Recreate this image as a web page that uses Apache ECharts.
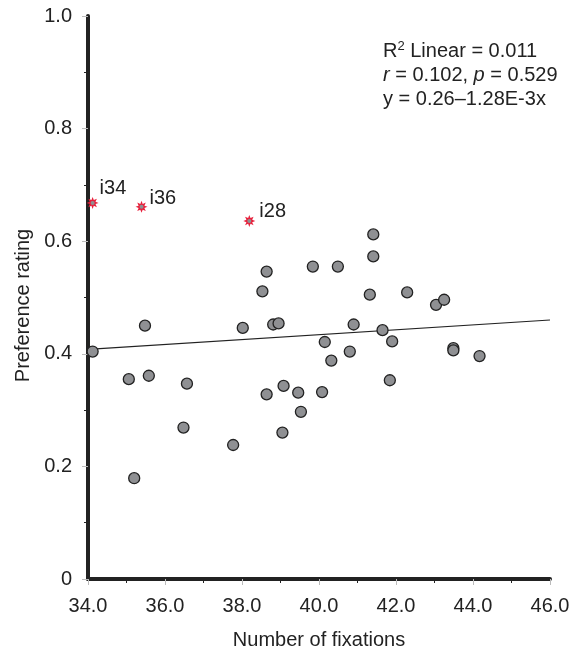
<!DOCTYPE html>
<html>
<head>
<meta charset="utf-8">
<script src="https://cdn.jsdelivr.net/npm/echarts@6/dist/echarts.min.js"></script>
<style>
  html, body { margin: 0; padding: 0; background: #fff; }
  #main { width: 579px; height: 655px; }
</style>
</head>
<body>
<div id="main"></div>
<script>
// fixations vs preference, grey points
const fixations = [34.12, 35.06, 35.20, 35.48, 35.58, 36.48, 36.57, 37.77, 38.02, 38.53,
  38.64, 38.64, 38.81, 38.95, 39.05, 39.08, 39.46, 39.53, 39.84, 40.08,
  40.15, 40.32, 40.49, 40.80, 40.90, 41.32, 41.41, 41.41, 41.65, 41.84,
  41.90, 42.29, 43.04, 43.25, 43.49, 43.49, 44.17];
const ratings = [0.404, 0.355, 0.179, 0.450, 0.361, 0.269, 0.347, 0.238, 0.446, 0.511,
  0.546, 0.328, 0.452, 0.454, 0.260, 0.343, 0.331, 0.297, 0.555, 0.332,
  0.421, 0.388, 0.555, 0.404, 0.452, 0.505, 0.612, 0.573, 0.442, 0.353,
  0.422, 0.509, 0.487, 0.496, 0.410, 0.406, 0.396];

// outliers (red stars)
const outlierNames = ['i34', 'i36', 'i28'];
const outlierX = [34.12, 35.39, 38.19];
const outlierY = [0.668, 0.661, 0.636];

// fitted line end points
const fitX = [34, 46];
const fitY = [0.408, 0.460];

const xTicks = [34, 36, 38, 40, 42, 44, 46];
const yTicks = [0, 0.2, 0.4, 0.6, 0.8, 1.0];

const font = '"Liberation Sans", Arial, sans-serif';
const ink = '#222';
const fs = 20;

const starPath = 'path://M0,-10 L2,-4.8 L7.1,-7.1 L4.8,-2 L10,0 L4.8,2 L7.1,7.1 L2,4.8 L0,10 L-2,4.8 L-7.1,7.1 L-4.8,2 L-10,0 L-4.8,-2 L-7.1,-7.1 L-2,-4.8 Z';

const chart = echarts.init(document.getElementById('main'));

const points = fixations.map((x, i) => [x, ratings[i]]);
const labelOffsets = [[-4, -14], [-3, -8], [-1, -9]];
const outliers = outlierX.map((x, i) => ({
  value: [x, outlierY[i]],
  name: outlierNames[i],
  label: { offset: labelOffsets[i] }
}));

const option = {
  animation: false,
  textStyle: { fontFamily: font },
  grid: { left: 88, right: 29, top: 16, bottom: 72 },
  xAxis: {
    type: 'value',
    min: xTicks[0],
    max: xTicks[xTicks.length - 1],
    interval: 2,
    name: 'Number of fixations',
    nameLocation: 'middle',
    nameGap: 51,
    nameTextStyle: { fontSize: fs, color: ink, fontFamily: font },
    axisLine: { show: true, onZero: false, lineStyle: { color: ink, width: 4 } },
    axisTick: { show: true, length: 6, lineStyle: { color: '#bbb', width: 1 } },
    minorTick: { show: true, splitNumber: 2, length: 4, lineStyle: { color: ink, width: 1 } },
    axisLabel: {
      fontSize: fs, color: ink, margin: 17, fontFamily: font,
      formatter: v => v.toFixed(1)
    },
    splitLine: { show: false }
  },
  yAxis: {
    type: 'value',
    min: yTicks[0],
    max: yTicks[yTicks.length - 1],
    interval: 0.2,
    name: 'Preference rating',
    nameLocation: 'middle',
    nameGap: 55,
    nameTextStyle: { fontSize: fs, color: ink, fontFamily: font, padding: [0, 16, 0, 0] },
    axisLine: { show: true, onZero: false, lineStyle: { color: ink, width: 4 } },
    axisTick: { show: true, length: 6, lineStyle: { color: '#bbb', width: 1 } },
    minorTick: { show: true, splitNumber: 2, length: 4, lineStyle: { color: ink, width: 1 } },
    axisLabel: {
      fontSize: fs, color: ink, margin: 16, fontFamily: font,
      formatter: v => (v === 0 ? '0' : v.toFixed(1))
    },
    splitLine: { show: false }
  },
  graphic: [{
    type: 'text',
    left: 383,
    top: 40,
    style: {
      text: '{n|R}{sup|2}{n| Linear = 0.011}\n{i|r}{n| = 0.102, }{i|p}{n| = 0.529}\n{n|y = 0.26–1.28E-3x}',
      fill: ink,
      rich: {
        n: { fontSize: fs, fontFamily: font, fill: ink, lineHeight: 24 },
        i: { fontSize: fs, fontFamily: font, fill: ink, fontStyle: 'italic', lineHeight: 24 },
        sup: { fontSize: 13, fontFamily: font, fill: ink, padding: [0, 0, 10, 0], lineHeight: 24 }
      }
    }
  }],
  series: [
    {
      type: 'line',
      data: fitX.map((x, i) => [x, fitY[i]]),
      symbol: 'none',
      lineStyle: { color: ink, width: 1.2 },
      z: 1
    },
    {
      type: 'scatter',
      data: points,
      symbol: 'circle',
      symbolSize: 11,
      itemStyle: { color: '#8f9093', borderColor: ink, borderWidth: 1.3, opacity: 1 },
      z: 3
    },
    {
      type: 'scatter',
      data: outliers,
      symbol: starPath,
      symbolSize: 12,
      itemStyle: { color: '#e8213c', opacity: 1 },
      label: {
        show: true,
        position: 'right',
        formatter: '{b}',
        fontSize: fs,
        color: ink,
        fontFamily: font
      },
      z: 4
    },
    {
      type: 'scatter',
      data: outlierX.map((x, i) => [x, outlierY[i]]),
      symbol: 'circle',
      symbolSize: 4,
      itemStyle: { color: '#8f9093', opacity: 1 },
      silent: true,
      z: 5
    }
  ]
};

chart.setOption(option);
</script>
</body>
</html>
